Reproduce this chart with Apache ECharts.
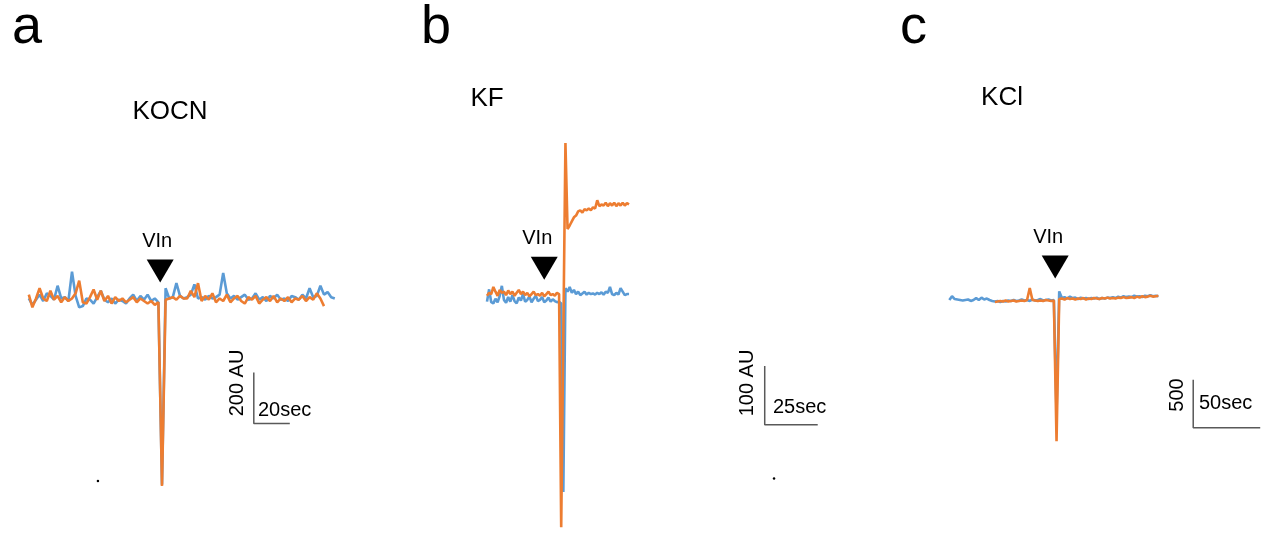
<!DOCTYPE html>
<html>
<head>
<meta charset="utf-8">
<script src="https://cdn.jsdelivr.net/npm/echarts@6/dist/echarts.min.js"></script>
<style>
html, body { margin: 0; padding: 0; background: #fff; }
#chart { width: 1269px; height: 533px; }
</style>
</head>
<body>
<div id="chart"></div>
<script>
// ---- data (time in sec, signal in AU relative to baseline) ----
// panel a: KOCN, sampled every 2 s from t = 0
const aStep = 2;
const aBlue = [
  10, -15, 5, 25, 0, 30, 20, 5, 60, 10,
  15, 0, 115, 20, -25, -20, 10, 5, -10, 15,
  40, 5, -5, 10, -10, 5, 0, -10, 10, 25,
  0, 20, 5, 25, 0, 10, -5, -720, 50, 10,
  15, 70, 20, 10, 15, 25, 65, 10, 15, 5,
  20, 10, 15, 25, 110, 30, 10, 20, 5, 15,
  25, 5, 10, 30, 5, 15, 0, 20, 10, 25,
  5, 10, 0, 20, 15, 5, 25, 10, 50, 15,
  20, 60, 25, 35, 15, 10
];
const aOrange = [
  25, -25, 10, 50, 10, 0, 40, 5, 20, -5,
  15, 0, 10, 30, 80, -5, -10, 15, 45, 5,
  40, 0, 20, -10, 15, 0, 10, -5, 5, 15,
  -5, 10, 0, -10, 0, -15, -5, -725, 5, 10,
  15, 5, 20, 10, 10, 40, 15, 70, 0, 20,
  5, 30, -5, 10, 0, 25, -5, 10, 20, 0,
  -10, 15, 5, 20, -10, 5, 15, 0, 20, -5,
  10, 0, 15, -5, 10, 5, 20, 0, 15, 5,
  30, 10, -20
];
const aArrow = [73, 118];
const aDot = [38.4, -706];
const aScale = { t: 125, sec: 20, low: -480, au: 200 };

// panel b: KF, sampled every 1 s
const bStep = 1;
const bBlue = [
  -5, 16, -6, -8, 0, -6, 5, 22, -2, -7,
  3, -5, 6, -4, -8, 2, -3, 8, -5, -2,
  4, -6, 0, 5, -4, -2, 3, -6, -3, 2,
  -5, -1, -4, -6, -5, -8, -330, 18, 12, 20,
  10, 15, 8, 12, 6, 9, 12, 7, 10, 8,
  9, 7, 10, 8, 11, 7, 12, 10, 20, 8,
  6, 10, 7, 18, 12, 6, 8, 8
];
const bOrange = [
  5, 10, 8, 20, 12, 5, 15, 10, 12, 6,
  14, 8, 12, 5, 10, 15, 8, 12, 6, 10,
  4, 8, 12, 6, 8, 5, 10, 4, 8, 12,
  6, 8, 5, 10, 8, -390, -62, 266, 119, 125,
  132, 139, 142, 149, 151, 147, 153, 151, 154, 151,
  156, 154, 168, 158, 161, 159, 164, 158, 163, 159,
  164, 158, 163, 159, 164, 159, 163, 161
];
const bArrow = [27, 52];
const bDot = [135.4, -307];
const bScale = { t: 131, sec: 25, low: -215, au: 100 };

// panel c: KCl, sampled every 2 s; orange starts later
const cStep = 2;
const cOrangeStart = 34;
const cBlue = [
  0, 40, 10, 5, 0, -5, 0, 5, -10, 0,
  20, 0, 25, 5, 15, 0, -10, -15, -10, -20,
  -10, -15, -5, -10, 0, -10, -5, 5, -5, 0,
  -10, 5, -5, 0, 10, -5, 0, 5, -5, 0,
  -1180, 90, 20, 30, 15, 35, 20, 25, 10, 25,
  15, 20, 10, 20, 15, 25, 10, 20, 15, 25,
  20, 30, 20, 35, 25, 40, 30, 35, 30, 45,
  35, 40, 30, 45, 40, 50, 40, 45, 40
];
const cOrange = [
  -20, -15, -10, -15, -5, -15, -10, -5, -15, -10,
  -5, -10, 0, 125, 0, -5, -10, -5, -10, 0,
  -5, -10, -5, -1470, 10, 15, 5, 20, 10, 15,
  5, 15, 10, 20, 5, 15, 10, 20, 15, 10,
  20, 15, 25, 15, 20, 15, 25, 20, 30, 20,
  25, 30, 20, 35, 25, 40, 30, 35, 45, 35,
  40, 45
];
const cArrow = [79, 344];
const cScale = { t: 182, sec: 50, low: -1330, au: 500 };

const BLUE = '#5b9bd5';
const ORANGE = '#ed7d31';
const FONT = '"Liberation Sans", Arial, sans-serif';

function toPairs(vals, start, step) {
  return vals.map((v, i) => [start + i * step, v]);
}

function trace(idx, vals, start, step, color) {
  return {
    type: 'line', xAxisIndex: idx, yAxisIndex: idx,
    data: toPairs(vals, start, step),
    showSymbol: false, symbol: 'none', clip: false,
    lineStyle: { color: color, width: 2.6 },
    silent: true
  };
}

function scaleBar(idx, s) {
  return {
    type: 'line', xAxisIndex: idx, yAxisIndex: idx,
    data: [[s.t, s.low + s.au], [s.t, s.low], [s.t + s.sec, s.low]],
    showSymbol: false, symbol: 'none', clip: false,
    lineStyle: { color: '#595959', width: 1.5 },
    silent: true
  };
}

// black down-pointing arrowhead with the "VIn" label above it
function arrow(idx, pos, dx) {
  return {
    type: 'scatter', xAxisIndex: idx, yAxisIndex: idx,
    data: [pos],
    symbol: 'triangle', symbolRotate: 180, symbolSize: [27, 23],
    itemStyle: { color: '#000', opacity: 1 },
    label: {
      show: true, position: 'top', distance: 8, offset: [dx, 0],
      formatter: 'VIn', color: '#000', fontSize: 20, fontFamily: FONT
    },
    silent: true
  };
}

function dot(idx, pos) {
  return {
    type: 'scatter', xAxisIndex: idx, yAxisIndex: idx,
    data: [pos], symbol: 'circle', symbolSize: 2.5,
    itemStyle: { color: '#000', opacity: 1 }, silent: true
  };
}

function txt(text, x, y, size, align, rot) {
  return {
    type: 'text', x: x, y: y, rotation: rot || 0,
    style: {
      text: text, fill: '#000', fontSize: size, fontFamily: FONT,
      align: align || 'center', verticalAlign: 'middle'
    }
  };
}

const chart = echarts.init(document.getElementById('chart'));

chart.setOption({
  animation: false,
  backgroundColor: '#fff',
  grid: [
    { left: 27, top: 148, width: 307.8, height: 357 },
    { left: 487, top: 123, width: 339.2, height: 413 },
    { left: 948, top: 108, width: 316.24, height: 345.6 }
  ],
  xAxis: [
    { gridIndex: 0, type: 'value', min: -1, max: 170, show: false },
    { gridIndex: 1, type: 'value', min: 0, max: 160, show: false },
    { gridIndex: 2, type: 'value', min: -1, max: 235, show: false }
  ],
  yAxis: [
    { gridIndex: 0, type: 'value', min: -800, max: 600, show: false },
    { gridIndex: 1, type: 'value', min: -400, max: 300, show: false },
    { gridIndex: 2, type: 'value', min: -1600, max: 2000, show: false }
  ],
  series: [
    trace(0, aBlue, 0, aStep, BLUE),
    trace(0, aOrange, 0, aStep, ORANGE),
    scaleBar(0, aScale),
    arrow(0, aArrow, -3),
    dot(0, aDot),

    trace(1, bBlue, 0, bStep, BLUE),
    trace(1, bOrange, 0, bStep, ORANGE),
    scaleBar(1, bScale),
    arrow(1, bArrow, -7),
    dot(1, bDot),

    trace(2, cBlue, 0, cStep, BLUE),
    trace(2, cOrange, cOrangeStart, cStep, ORANGE),
    scaleBar(2, cScale),
    arrow(2, cArrow, -7)
  ],
  graphic: [
    // panel letters
    txt('a', 12, 28, 54, 'left'),
    txt('b', 421, 28, 54, 'left'),
    txt('c', 900, 28, 54, 'left'),
    // panel titles
    txt('KOCN', 170, 112, 26),
    txt('KF', 487, 99, 26),
    txt('KCl', 1002, 98, 26),
    // scale bar labels
    txt('20sec', 258, 410, 20, 'left'),
    txt('200 AU', 237, 383, 20, 'center', Math.PI / 2),
    txt('25sec', 773, 407, 20, 'left'),
    txt('100 AU', 747, 383, 20, 'center', Math.PI / 2),
    txt('50sec', 1199, 403, 20, 'left'),
    txt('500', 1177, 395, 20, 'center', Math.PI / 2)
  ]
});

window.addEventListener('resize', () => chart.resize());
</script>
</body>
</html>
